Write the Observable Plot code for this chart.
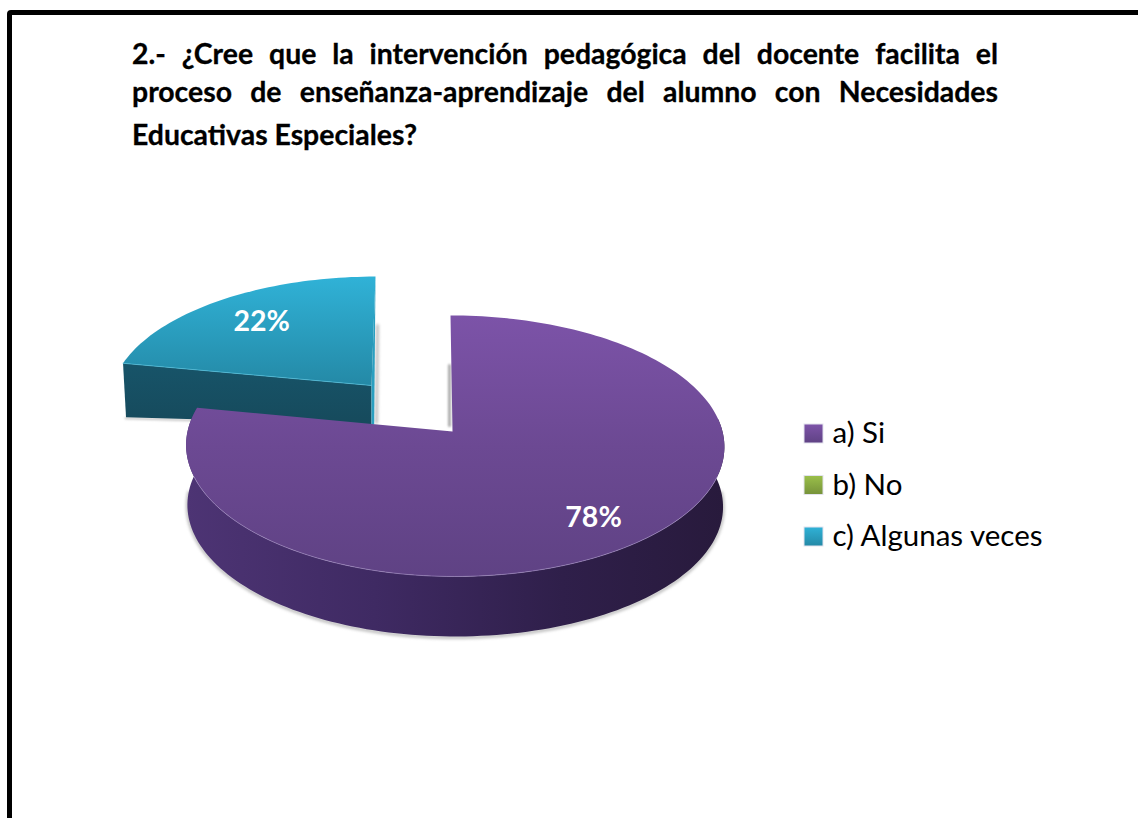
<!DOCTYPE html>
<html lang="es">
<head>
<meta charset="utf-8">
<script src="https://cdn.jsdelivr.net/npm/d3@7"></script>
<script src="https://cdn.jsdelivr.net/npm/@observablehq/plot@0.6"></script>
<style>
  html,body{margin:0;padding:0;background:#fff;overflow:hidden}
  #page{position:relative;width:1138px;height:818px;overflow:hidden;font-family:Lato,sans-serif}
  #frame{position:absolute;left:7px;top:9.5px;width:1200px;height:900px;border:5.8px solid #000;border-radius:4px;box-sizing:border-box}
  #chart{position:absolute;left:0;top:0}
  .t{position:absolute;left:132px;width:866px;font-weight:700;font-size:28.4px;line-height:32px;color:#000;white-space:normal;-webkit-text-stroke:0.3px #000}
  .j{text-align:justify;text-align-last:justify}
</style>
</head>
<body>
<div id="page">
  <div id="frame"></div>
  <div id="chart"></div>
  <div id="t1" class="t j" style="top:37px"></div>
  <div id="t2" class="t j" style="top:75px"></div>
  <div id="t3" class="t" style="top:118px"></div>
</div>
<script>
const titleLines = [
  "2.- ¿Cree que la intervención pedagógica del docente facilita el",
  "proceso de enseñanza-aprendizaje del alumno con Necesidades",
  "Educativas Especiales?"
];
const categories = ["a) Si", "b) No", "c) Algunas veces"];
const shares = [78, 0, 22];
const labels = ["78%", "", "22%"];

// Drawing geometry of each exploded slice (perspective view of the pie)
const sliceGeometry = [
  {ax: 452, ay: 431, bL: 265, bR: 270, a: 128.9, k: 0.111, skew: -2, depth: 60, shrink: 0.995, labelR: 0.81, labelDx: -10},
  null,
  {ax: 371, ay: 385, bL: 259, bR: 259, a: 121, k: 0.111, skew: 4, depth: 39, shrink: 0.99, labelR: 0.72, labelDx: 0}
];

function point(g, deg, r = 1, down = 0) {
  const t = deg * Math.PI / 180, u = Math.sin(t) * r, v = Math.cos(t) * r;
  const s = down ? g.shrink : 1;
  const w = 1 + g.k * v;
  return {
    x: g.ax + s * ((u > 0 ? g.bR : g.bL) * u / w) + g.skew * v,
    y: g.ay - g.a * v / w + down
  };
}
function arc(g, a0, a1, down = 0) {
  const n = Math.max(2, Math.ceil(Math.abs(a1 - a0) / 1.5));
  return d3.range(n + 1).map(i => point(g, a0 + (a1 - a0) * i / n, 1, down));
}

// Angular extent of every slice follows from the shares
const total = d3.sum(shares);
let running = 0;
const slices = shares.map((v, i) => {
  const start = running / total * 360;
  running += v;
  return {i, v, start, end: running / total * 360, mid: (start + running / total * 360) / 2, g: sliceGeometry[i], label: labels[i]};
});
const purple = slices[0], teal = slices[2];

const topFace = s => [{x: s.g.ax, y: s.g.ay}, ...arc(s.g, s.start, s.end)];

// purple: outer wall, visible along the front of the rim
const purpleWall = [...arc(purple.g, 84, purple.end), ...arc(purple.g, purple.end, 84, purple.g.depth)];
// teal: cut face below the radial edge, and the thin sliver at the right
const tg = teal.g;
const tealApex = {x: tg.ax, y: tg.ay};
const tealLeft = point(tg, teal.start);
const tealBackTop = point(tg, teal.end);
const tealCut = [tealApex, tealLeft,
  {x: tealLeft.x + 3, y: tealLeft.y + 54},
  {x: tealApex.x, y: tealApex.y + tg.depth}];
const tealSliver = [tealBackTop, tealApex, {x: tealApex.x, y: tealApex.y + tg.depth}, {x: tealApex.x + 2.7, y: tealApex.y + tg.depth}];

const blur = px => (i, s, v, d, c, next) => {
  const el = next(i, s, v, d, c);
  el.style.filter = `blur(${px}px)`;
  return el;
};

const defs = () => {
  const el = document.createElementNS("http://www.w3.org/2000/svg", "defs");
  const grad = (id, stops, h) => `<linearGradient id="${id}" x1="0" y1="0" x2="${h ? 1 : 0}" y2="${h ? 0 : 1}">` +
    stops.map(([o, c]) => `<stop offset="${o}" stop-color="${c}"/>`).join("") + `</linearGradient>`;
  el.innerHTML =
    grad("pTop", [[0, "#7c53a8"], [0.5, "#6c4993"], [1, "#5f4284"]]) +
    grad("pSide", [[0, "#4d3474"], [0.35, "#3f2a63"], [0.7, "#2f1f4a"], [1, "#281a3c"]], true) +
    grad("tTop", [[0, "#30b2d7"], [1, "#2489a6"]]) +
    grad("tCut", [[0, "#175469"], [1, "#164a5c"]]) +
    grad("swP", [[0, "#7e54a9"], [1, "#5f4284"]]) +
    grad("swG", [[0, "#9bc04a"], [1, "#76923a"]]) +
    grad("swT", [[0, "#30b2d7"], [1, "#2489a6"]]);
  return el;
};

const swatchFills = ["url(#swP)", "url(#swG)", "url(#swT)"];
const legendRows = categories.map((name, i) => ({name, i, fill: swatchFills[i]}));
const legendY = d3.scaleLinear().domain([0, 2]).range([433.5, 536.5]);
const xy = {x: "x", y: "y"};

const labelRows = [purple, teal].map(s => {
  const p = point(s.g, s.mid, s.g.labelR);
  return {x: p.x + s.g.labelDx, y: p.y, text: s.label};
});

const chart = Plot.plot({
  width: 1138, height: 818, margin: 0,
  x: {domain: [0, 1138], range: [0, 1138], axis: null},
  y: {domain: [0, 818], range: [0, 818], axis: null},
  style: {background: "transparent", overflow: "visible"},
  marks: [
    defs,
    // soft contact shadows
    Plot.line([{x: tealApex.x + 6, y: tealApex.y - 60}, {x: tealApex.x + 5, y: tealApex.y + tg.depth - 2}], {...xy, stroke: "#888", strokeWidth: 3, strokeOpacity: 0.55, render: blur(1.5)}),
    Plot.line([point(tg, teal.start, 1, 55), {x: tealApex.x, y: tealApex.y + tg.depth + 1}], {...xy, stroke: "#888", strokeWidth: 2, strokeOpacity: 0.5, render: blur(1)}),
    Plot.line(arc(purple.g, 90, 270, purple.g.depth + 1), {...xy, stroke: "#777", strokeWidth: 3, strokeOpacity: 0.5, render: blur(1.5)}),
    Plot.line([{x: purple.g.ax - 3, y: purple.g.ay - 66}, {x: purple.g.ax - 3, y: purple.g.ay - 6}], {...xy, stroke: "#666", strokeWidth: 3, strokeOpacity: 0.55, render: blur(1.2)}),
    // teal slice
    Plot.line(tealCut, {...xy, fill: "url(#tCut)", stroke: "none"}),
    Plot.line(tealSliver, {...xy, fill: "#2a9fc0", stroke: "none"}),
    Plot.line(topFace(teal), {...xy, fill: "url(#tTop)", stroke: "none"}),
    Plot.line([tealLeft, tealApex], {...xy, stroke: "#4fc0de", strokeWidth: 1, strokeOpacity: 0.7}),
    // purple slice
    Plot.line(purpleWall, {...xy, fill: "url(#pSide)", stroke: "none"}),
    Plot.line(topFace(purple), {...xy, fill: "url(#pTop)", stroke: "none"}),
    Plot.line(arc(purple.g, 110, 250), {...xy, stroke: "#9a84bb", strokeWidth: 1, strokeOpacity: 0.7}),
    // slice labels
    Plot.text(labelRows, {...xy, text: "text", fill: "#fff", fontFamily: "Lato, sans-serif", fontWeight: 700, fontSize: 28.5, textAnchor: "middle", lineAnchor: "middle"}),
    // legend
    Plot.rect(legendRows, {x1: () => 804, x2: () => 823, y1: d => legendY(d.i) - 9.5, y2: d => legendY(d.i) + 9.5, fill: "fill", stroke: "#e3e3ee", strokeWidth: 1}),
    Plot.text(legendRows, {x: () => 832, y: d => legendY(d.i), text: "name", fill: "#000", fontFamily: "Lato, sans-serif", fontSize: 29.5, textAnchor: "start", lineAnchor: "middle"})
  ]
});
document.getElementById("chart").append(chart);
titleLines.forEach((line, i) => { document.getElementById("t" + (i + 1)).textContent = line; });
</script>
</body>
</html>
